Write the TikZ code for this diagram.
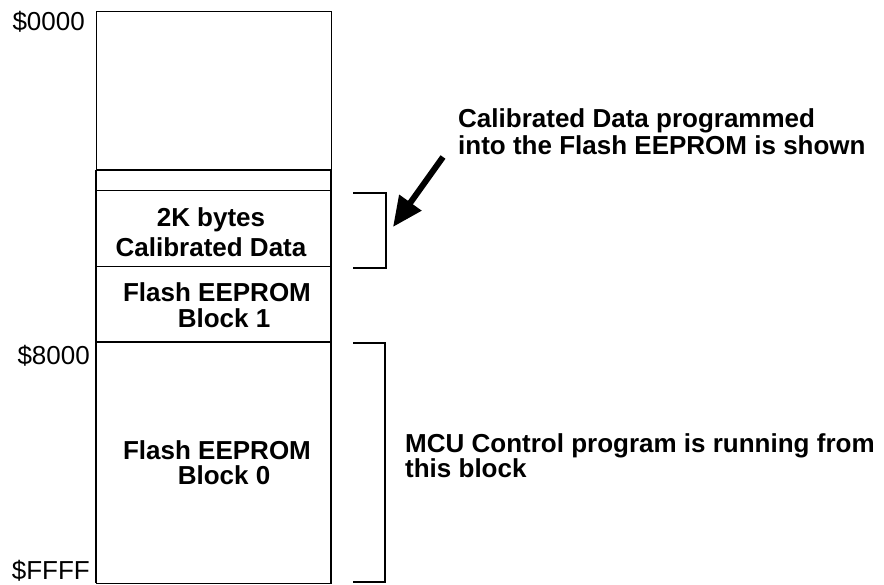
\documentclass[tikz,border=0pt]{standalone}
\usepackage{fontspec}
\setmainfont{Liberation Sans}
\usetikzlibrary{arrows.meta}

\tikzset{
	addr/.style={anchor=base east, inner sep=0pt, font=\fontsize{26}{28}\selectfont},
	blocktext/.style={anchor=base, align=center, inner sep=0pt, font=\fontsize{26}{26}\bfseries\selectfont},
	note/.style={anchor=base west, align=left, inner sep=0pt, font=\fontsize{26}{27}\bfseries\selectfont},
	brace/.style={line width=1.6pt},
	bigarrow/.style={line width=6pt, -{Triangle[length=30pt,width=26pt]}}
}

\begin{document}
\begin{tikzpicture}[x=1pt, y=-1pt]
\useasboundingbox (0,0) rectangle (884,585);
% memory map
\draw[line width=1pt] (96,12) rectangle (331,583);
\draw[line width=1.6pt] (96,170) -- (96,583) (331,170) -- (331,583);
\draw[line width=2pt] (96,170) -- (331,170);
\draw[line width=1pt] (96,191) -- (331,191);
\draw[line width=1pt] (96,267) -- (331,267);
\draw[line width=2.2pt] (96,342) -- (331,342);
\node[addr] (a0000) at (85,31) {\$0000};
\node[addr] (a8000) at (90,365) {\$8000};
\node[addr] (affff) at (90,579) {\$FFFF};
\node[blocktext, font=\fontsize{26}{30}\bfseries\selectfont] (cal) at (211,257) {2K bytes\\Calibrated Data};
\node[blocktext] (blk1) at (217,328) {Flash EEPROM\\\hspace*{14pt}Block 1};
\node[blocktext, font=\fontsize{26}{25}\bfseries\selectfont] (blk0) at (217,484) {Flash EEPROM\\\hspace*{14pt}Block 0};
% brackets
\coordinate (b1top) at (353,193);
\coordinate (b1bot) at (353,268);
\coordinate (b0top) at (353,343);
\coordinate (b0bot) at (353,582);
\draw[brace] (b1top) -- ++(33,0) |- (b1bot);
\draw[brace] (b0top) -- ++(32,0) |- (b0bot);
% notes
\node[note] (calnote) at (458,155) {Calibrated Data programmed\\into the Flash EEPROM is shown};
\node[note, font=\fontsize{26}{25}\bfseries\selectfont] (mcunote) at (405,477) {MCU Control program is running from\\this block};
\coordinate (arrtail) at (443,157);
\coordinate (arrtip) at (393,227);
\draw[bigarrow] (arrtail) -- (arrtip);
\end{tikzpicture}
\end{document}
